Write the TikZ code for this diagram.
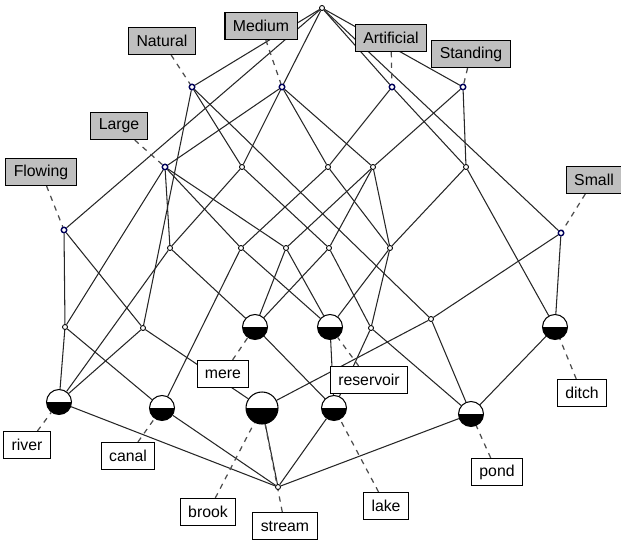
\documentclass[tikz,border=0pt]{standalone}
\usepackage{fontspec}
\setmainfont{Liberation Sans}
\pgfdeclarelayer{background}
\pgfsetlayers{background,main}
\begin{document}
\begin{tikzpicture}[x=0.02cm, y=-0.02cm,
    kante/.style={draw=black!85, line width=0.6pt},
    leit/.style={draw=black!70, dashed, line width=0.7pt},
    konz/.style={circle, draw=black, fill=white, inner sep=0pt,
      minimum size=0.1cm, line width=0.5pt},
    merk/.style={circle, draw=blue!35!black, fill=white, inner sep=0pt,
      minimum size=0.11cm, line width=0.8pt},
    obj/.style={circle, draw=black, fill=white, inner sep=0pt,
      minimum size=0.5cm, line width=0.6pt,
      path picture={\fill[black] (path picture bounding box.west)
        rectangle (path picture bounding box.south east);}},
    merkbox/.style={draw=black, fill=black!25, font=\fontsize{9}{10}\selectfont,
      inner xsep=4.5pt, minimum height=15.4pt, line width=0.6pt},
    objbox/.style={draw=black, fill=white, font=\fontsize{9}{10}\selectfont,
      inner xsep=4.5pt, minimum height=15.4pt, line width=0.6pt}]
  \useasboundingbox (0,0) rectangle (621,543);

  % concepts
  \node[konz] (top) at (322,8) {};
  \node[merk] (nat) at (192,87) {};
  \node[merk] (med) at (282,87) {};
  \node[merk] (art) at (392,87) {};
  \node[merk] (sta) at (463,87) {};
  \node[merk] (lar) at (165,167) {};
  \node[konz] (a) at (242,167) {};
  \node[konz] (b) at (328,167) {};
  \node[konz] (c) at (373,167) {};
  \node[konz] (d) at (466,167) {};
  \node[merk] (flo) at (64,230) {};
  \node[konz] (e) at (170,248) {};
  \node[konz] (f) at (241,248) {};
  \node[konz] (g) at (286,248) {};
  \node[konz] (h) at (329,248) {};
  \node[konz] (i) at (390,248) {};
  \node[merk] (sma) at (561,233) {};
  \node[konz] (j) at (65,327) {};
  \node[konz] (k) at (143,328) {};
  \node[obj] (mere) at (255,327) {};
  \node[obj] (res) at (330,327) {};
  \node[konz] (l) at (371,328) {};
  \node[konz] (m) at (431,319) {};
  \node[obj] (ditch) at (555,327) {};
  \node[obj] (river) at (59,402) {};
  \node[obj] (canal) at (162,408) {};
  \node[obj, minimum size=0.64cm] (brook) at (262,408) {};
  \node[obj] (lake) at (334,408) {};
  \node[obj] (pond) at (471,414) {};
  \node[konz] (bot) at (278,487) {};

  % labels
  \node[merkbox] (lNat) at (162,41) {Natural};
  \node[merkbox] (lMed) at (261,26) {Medium};
  \node[merkbox] (lArt) at (391,38) {Artificial};
  \node[merkbox] (lSta) at (471,54) {Standing};
  \node[merkbox] (lLar) at (119,126) {Large};
  \node[merkbox] (lFlo) at (41,172) {Flowing};
  \node[merkbox] (lSma) at (594,180) {Small};
  \node[objbox] (lmere) at (223,374) {mere};
  \node[objbox] (lres) at (369,380) {reservoir};
  \node[objbox] (lriver) at (27,445) {river};
  \node[objbox] (lcanal) at (128,456) {canal};
  \node[objbox] (lbrook) at (208,512) {brook};
  \node[objbox] (lstream) at (285,526) {stream};
  \node[objbox] (llake) at (386,506) {lake};
  \node[objbox] (lpond) at (497,472) {pond};
  \node[objbox] (lditch) at (582,393) {ditch};

  \begin{pgfonlayer}{background}
    % lattice edges
    \foreach \u/\v in {top/nat, top/med, top/art, top/sta, top/flo, top/sma,
        nat/a, nat/k, nat/m, art/b, art/d, flo/k, flo/j, sta/c, sta/d,
        med/lar, med/a, med/b, med/c, sma/m, sma/ditch,
        lar/j, lar/e, lar/f, lar/g, a/e, a/h, b/f, b/i, c/g, c/h, c/i,
        d/i, d/ditch, e/river, e/mere, f/canal, f/res, g/mere, g/res,
        h/mere, h/l, i/res, i/l, j/river, j/canal, k/river, k/brook,
        m/brook, m/pond, mere/lake, res/lake, l/lake, l/pond, ditch/pond,
        river/bot, canal/bot, brook/bot, lake/bot, pond/bot}
      \draw[kante] (\u) -- (\v);
    % leader lines
    \foreach \u/\v in {lNat/nat, lMed/med, lArt/art, lSta/sta, lLar/lar,
        lFlo/flo, lSma/sma, lmere/mere, lres/res, lriver/river,
        lcanal/canal, lbrook/brook, lstream/brook, llake/lake,
        lpond/pond, lditch/ditch}
      \draw[leit] (\u) -- (\v);
  \end{pgfonlayer}
\end{tikzpicture}
\end{document}
